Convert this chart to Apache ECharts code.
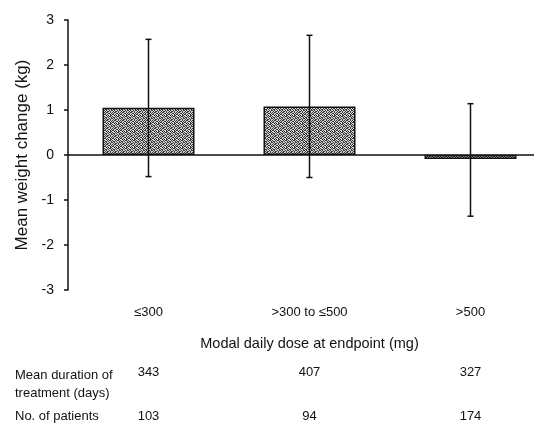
<!DOCTYPE html>
<html>
<head>
<meta charset="utf-8">
<script src="https://cdn.jsdelivr.net/npm/echarts@6/dist/echarts.min.js"></script>
<style>
html,body{margin:0;padding:0;background:#fff;}
#chart{width:534px;height:427px;}
</style>
</head>
<body>
<div id="chart"></div>
<script>
const categories = ['≤300', '>300 to ≤500', '>500'];
const meanChange = [1.05, 1.08, -0.09];
const errLow = [-0.48, -0.5, -1.36];
const errHigh = [2.57, 2.66, 1.14];
const durations = ['343', '407', '327'];
const patients = ['103', '94', '174'];
const yTicks = [-3, -2, -1, 0, 1, 2, 3];

const FONT = 'Liberation Sans, Arial, Helvetica, sans-serif';
const chart = echarts.init(document.getElementById('chart'), null, {renderer: 'canvas'});

// stippled fill texture (fixed bitmap, styling only)
const texRows = [
  '10110010',
  '01001101',
  '11010010',
  '00101011',
  '10010110',
  '01101001',
  '10100101',
  '01011010'
];
const tex = document.createElement('canvas');
tex.width = 8; tex.height = 8;
const tctx = tex.getContext('2d');
tctx.fillStyle = '#d8d8d8';
tctx.fillRect(0, 0, 8, 8);
tctx.fillStyle = '#333333';
texRows.forEach((row, y) => {
  for (let x = 0; x < row.length; x++) if (row[x] === '1') tctx.fillRect(x, y, 1, 1);
});

const errData = categories.map((c, i) => [i, errLow[i], errHigh[i]]);

const hiddenAxisBits = {
  axisLine: {show: false},
  axisTick: {show: false},
  splitLine: {show: false}
};

const option = {
  backgroundColor: '#ffffff',
  animation: false,
  grid: {left: 68, top: 20, width: 483, height: 270, containLabel: false, outerBoundsMode: 'none'},
  xAxis: [
    {
      type: 'category', data: categories, position: 'bottom',
      axisLine: {show: true, onZero: true, lineStyle: {color: '#111', width: 1.5}},
      axisTick: {show: false}, axisLabel: {show: false}, splitLine: {show: false}
    },
    Object.assign({
      type: 'category', data: categories, position: 'bottom',
      axisLabel: {show: true, margin: 16, fontSize: 13, color: '#111', fontFamily: FONT},
      name: 'Modal daily dose at endpoint (mg)', nameLocation: 'middle', nameGap: 46,
      nameTextStyle: {fontSize: 14.5, color: '#111', fontFamily: FONT}
    }, hiddenAxisBits),
    Object.assign({
      type: 'category', data: durations, position: 'bottom', offset: 76,
      axisLabel: {show: true, margin: 0, fontSize: 13, color: '#111', fontFamily: FONT}
    }, hiddenAxisBits),
    Object.assign({
      type: 'category', data: patients, position: 'bottom', offset: 120,
      axisLabel: {show: true, margin: 0, fontSize: 13, color: '#111', fontFamily: FONT}
    }, hiddenAxisBits)
  ],
  yAxis: {
    type: 'value', min: yTicks[0], max: yTicks[yTicks.length - 1], interval: 1,
    axisLine: {show: true, onZero: false, lineStyle: {color: '#111', width: 1.5}},
    axisTick: {show: true, inside: false, length: 4, lineStyle: {color: '#111', width: 1.5}},
    axisLabel: {color: '#111', fontSize: 14, margin: 14, fontFamily: FONT},
    splitLine: {show: false},
    name: 'Mean weight change (kg)', nameLocation: 'middle', nameGap: 36,
    nameTextStyle: {fontSize: 17, color: '#111', fontFamily: FONT}
  },
  graphic: [
    {type: 'text', left: 15, top: 366,
     style: {text: 'Mean duration of\ntreatment (days)', fontSize: 13, lineHeight: 18, fill: '#111', fontFamily: FONT}},
    {type: 'text', left: 15, top: 410,
     style: {text: 'No. of patients', fontSize: 13, fill: '#111', fontFamily: FONT}}
  ],
  series: [
    {
      type: 'bar', xAxisIndex: 0, data: meanChange, barWidth: 92,
      itemStyle: {color: {image: tex, repeat: 'repeat'}, borderColor: '#111', borderWidth: 1.5},
      z: 2
    },
    {
      type: 'custom', xAxisIndex: 0, data: errData, encode: {x: 0, y: [1, 2]}, z: 3,
      renderItem: function (params, api) {
        const x = api.value(0);
        const lo = api.coord([x, api.value(1)]);
        const hi = api.coord([x, api.value(2)]);
        const cap = 3;
        const st = {stroke: '#111', lineWidth: 1.5};
        return {
          type: 'group',
          children: [
            {type: 'line', shape: {x1: lo[0], y1: lo[1], x2: hi[0], y2: hi[1]}, style: st},
            {type: 'line', shape: {x1: hi[0] - cap, y1: hi[1], x2: hi[0] + cap, y2: hi[1]}, style: st},
            {type: 'line', shape: {x1: lo[0] - cap, y1: lo[1], x2: lo[0] + cap, y2: lo[1]}, style: st}
          ]
        };
      }
    }
  ]
};
chart.setOption(option);
</script>
</body>
</html>
